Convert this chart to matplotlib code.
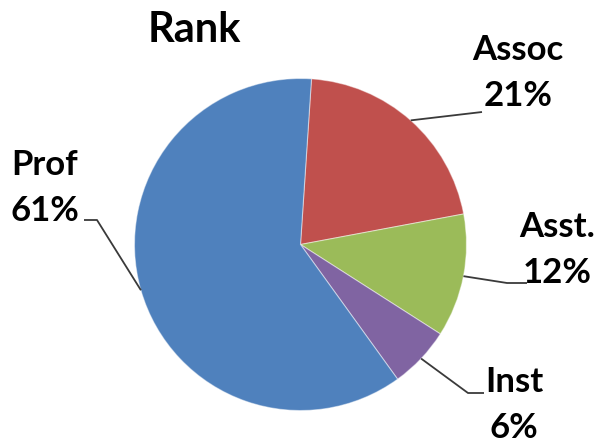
import numpy as np
import matplotlib.pyplot as plt

# rank breakdown, clockwise from the top
ranks = ['Assoc', 'Asst.', 'Inst', 'Prof']
shares = [21, 12, 6, 61]
colors = ['#C0504D', '#9BBB59', '#8064A2', '#4F81BD']

W, H = 600, 443
fig = plt.figure(figsize=(6, 4.43), dpi=100)
ax = fig.add_axes([0, 0, 1, 1])

cx, cy, r = 300.5, H - 244.5, 166
wedges, _ = ax.pie(shares, colors=colors, startangle=86.2, counterclock=False,
                   center=(cx, cy), radius=r,
                   wedgeprops=dict(edgecolor=(1, 1, 1, 0.45), linewidth=0.8))
ax.set_xlim(0, W)
ax.set_ylim(0, H)
ax.set_aspect('equal')
ax.axis('off')

font = dict(family='Lato', fontweight='bold', fontsize=25, color='black')

# label text position (image px), ha, and leader path points after the edge
layout = {
    'Prof':  ((11, 188), 'left',   [(97, 220), (84, 220)]),
    'Assoc': ((518, 73), 'center', [(482, 112)]),
    'Asst.': ((557, 250), 'center', [(507, 283), (527, 283)]),
    'Inst':  ((514, 405), 'center', [(468, 393), (484, 393)]),
}

for w, name, val in zip(wedges, ranks, shares):
    mid = np.deg2rad((w.theta1 + w.theta2) / 2)
    ex, ey = cx + r * np.cos(mid), cy + r * np.sin(mid)
    (tx, ty), ha, path = layout[name]
    xs = [ex] + [p[0] for p in path]
    ys = [ey] + [H - p[1] for p in path]
    ax.plot(xs, ys, color='#3a3a3a', lw=1.3, solid_capstyle='butt')
    ax.text(tx, H - ty, f'{name}\n{val}%', ha=ha, va='center',
            linespacing=1.52, **font)

ax.text(194, H - 30, 'Rank', ha='center', va='center', family='Lato',
        fontweight='bold', fontsize=30, color='black')

fig.savefig('out.png', dpi=100, facecolor='white')
